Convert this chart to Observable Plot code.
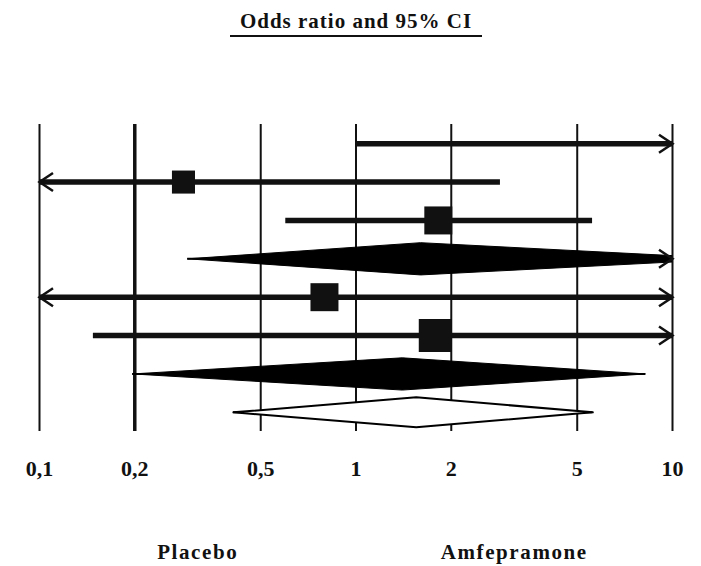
<!DOCTYPE html>
<html><head><meta charset="utf-8">
<script src="https://cdn.jsdelivr.net/npm/d3@7"></script>
<script src="https://cdn.jsdelivr.net/npm/@observablehq/plot@0.6"></script>
<style>
body{margin:0;background:#fff;}
#wrap{position:relative;width:701px;height:566px;}
#wrap svg{position:absolute;left:0;top:0;}
#title{position:absolute;left:230px;top:8px;width:252px;text-align:center;font-family:"Liberation Serif","Times New Roman",serif;font-weight:bold;font-size:21px;letter-spacing:1px;border-bottom:2px solid #111;line-height:26px;padding-bottom:1px;color:#111;z-index:2;}
</style></head><body>
<div id="wrap"><div id="title">Odds ratio and 95% CI</div></div>
<script>
// Data
const rowIds    = [1, 2, 3, 4, 5, 6, 7, 8];
const kinds     = ["study", "study", "study", "pooled", "study", "study", "pooled", "overall"];
const estimates = [null, 0.285, 1.82, 1.6, 0.795, 1.78, 1.4, 1.55];
const lowers    = [1.0, 0.05, 0.60, 0.294, 0.04, 0.148, 0.197, 0.41];
const uppers    = [30, 2.86, 5.59, 15.7, 15, 21, 8.22, 5.6];
const weights   = [null, 10.5, 15.5, null, 15.5, 21.5, null, null];
const tickValues = [0.1, 0.2, 0.5, 1, 2, 5, 10];
const sideLabels = ["Placebo", "Amfepramone"];

const xDomain = [tickValues[0], tickValues[tickValues.length - 1]];
const rows = rowIds.map((row, i) => ({row, kind: kinds[i], est: estimates[i], lo: lowers[i], hi: uppers[i], w: weights[i]}));
const studies = rows.filter(d => d.kind === "study");
const diamonds = rows.filter(d => d.kind !== "study");
const squares = studies.filter(d => d.est != null && d.est >= xDomain[0] && d.est <= xDomain[1]);

const H = 0.42, HO = 0.39; // diamond half-heights in row units
function diamondPts(d, h) {
  return [
    {row: d.row, x: d.lo, y: d.row},
    {row: d.row, x: d.est, y: d.row - h},
    {row: d.row, x: d.hi, y: d.row},
    {row: d.row, x: d.est, y: d.row + h},
    {row: d.row, x: d.lo, y: d.row}
  ];
}
const filledPts = diamonds.filter(d => d.kind === "pooled").flatMap(d => diamondPts(d, H));
const openPts = diamonds.filter(d => d.kind === "overall").flatMap(d => diamondPts(d, HO));

const leftArrows = rows.filter(d => d.lo < xDomain[0]).map(d => ({row: d.row, x: xDomain[0]}));
const rightArrows = rows.filter(d => d.hi > xDomain[1]).map(d => ({row: d.row, x: xDomain[1]}));

const chevronRight = {draw(ctx, size) { const r = Math.sqrt(size / Math.PI); ctx.moveTo(-1.5 * r, -r); ctx.lineTo(0, 0); ctx.lineTo(-1.5 * r, r); }};
const chevronLeft  = {draw(ctx, size) { const r = Math.sqrt(size / Math.PI); ctx.moveTo(1.5 * r, -r); ctx.lineTo(0, 0); ctx.lineTo(1.5 * r, r); }};

const sideX = [Math.sqrt(xDomain[0] * 1), Math.sqrt(1 * xDomain[1])];
const sideData = sideLabels.map((t, i) => ({t, x: sideX[i]}));
const fmt = d => String(d).replace(".", ",");

const INK = "#111";
const FONT = "'Liberation Serif', 'Times New Roman', serif";
const chart = Plot.plot({
  width: 701, height: 566,
  marginTop: 124, marginBottom: 135, marginLeft: 39, marginRight: 29,
  style: {fontFamily: FONT, color: INK, background: "white"},
  x: {type: "log", domain: xDomain, label: null, axis: null},
  y: {domain: [0.5, 8.5], reverse: true, axis: null},
  r: {type: "sqrt", domain: [0, d3.max(weights)], range: [0, 18.6]},
  marks: [
    Plot.ruleX(tickValues, {stroke: INK, strokeWidth: d => d === 0.2 ? 3.5 : 2}),
    Plot.ruleY(studies, {y: "row", x1: "lo", x2: "hi", stroke: INK, strokeWidth: 5.5, clip: true}),
    Plot.ruleY(diamonds, {y: "row", x1: "lo", x2: "hi", stroke: "#000", strokeWidth: 2, clip: true}),
    Plot.line(filledPts, {x: "x", y: "y", z: "row", fill: "#000", stroke: "#000", strokeWidth: 1, clip: true}),
    Plot.line(openPts, {x: "x", y: "y", z: "row", fill: "white", stroke: "#000", strokeWidth: 2, clip: true}),
    Plot.dot(squares, {x: "est", y: "row", r: "w", symbol: "square", fill: INK, stroke: null}),
    Plot.dot(leftArrows, {x: "x", y: "row", r: 9, symbol: chevronLeft, fill: "none", stroke: INK, strokeWidth: 2.5}),
    Plot.dot(rightArrows, {x: "x", y: "row", r: 9, symbol: chevronRight, fill: "none", stroke: INK, strokeWidth: 2.5}),
    Plot.text(tickValues, {x: d => d, text: fmt, frameAnchor: "bottom", lineAnchor: "top", dy: 29, fontSize: 22, fontWeight: "bold", fontFamily: FONT, fill: INK}),
    Plot.text(sideData, {x: "x", text: "t", frameAnchor: "bottom", lineAnchor: "top", dy: 113, fontSize: 21, fontWeight: "bold", fontFamily: FONT, fill: INK})
  ]
});
chart.querySelectorAll("text").forEach(t => {
  if (sideLabels.includes(t.textContent)) t.setAttribute("letter-spacing", "1.6");
});
document.getElementById("wrap").appendChild(chart);
</script>
</body></html>
